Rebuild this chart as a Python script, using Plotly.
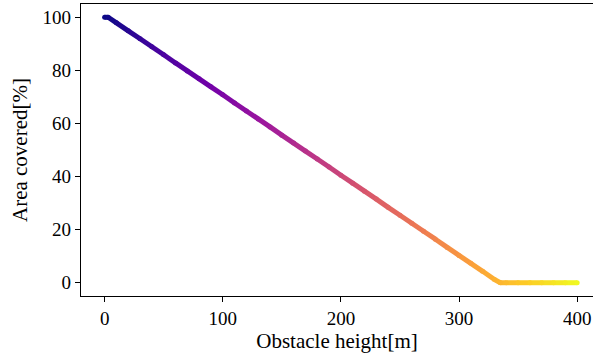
import plotly.graph_objects as go
from plotly.colors import sample_colorscale

# Data
heights = [0, 3, 10, 20, 30, 40, 50, 60, 70, 80, 90, 100, 110, 120, 130, 140, 150,
           160, 170, 180, 190, 200, 210, 220, 230, 240, 250, 260, 270, 280, 290,
           300, 310, 320, 330, 335, 340, 350, 360, 370, 380, 390, 400]
coverage = [100, 100, 97.9, 94.9, 91.9, 88.9, 85.9, 82.8, 79.8, 76.8, 73.8, 70.8,
            67.7, 64.7, 61.7, 58.7, 55.6, 52.6, 49.6, 46.6, 43.6, 40.5, 37.5, 34.5,
            31.5, 28.4, 25.4, 22.4, 19.4, 16.4, 13.3, 10.3, 7.3, 4.3, 1.2, 0,
            0, 0, 0, 0, 0, 0, 0]
x_ticks = [0, 100, 200, 300, 400]
y_ticks = [0, 20, 40, 60, 80, 100]

FONT = "Liberation Serif"
fig = go.Figure()

hmin, hmax = min(heights), max(heights)
for i in range(len(heights) - 1):
    mid = (heights[i] + heights[i + 1]) / 2
    c = sample_colorscale("Plasma", [(mid - hmin) / (hmax - hmin)])[0]
    fig.add_trace(go.Scatter(
        x=heights[i:i + 2], y=coverage[i:i + 2], mode="lines",
        line=dict(color=c, width=5), showlegend=False, hoverinfo="skip"))

pt_colors = sample_colorscale("Plasma", [(h - hmin) / (hmax - hmin) for h in heights])
fig.add_trace(go.Scatter(
    x=heights, y=coverage, mode="markers",
    marker=dict(color=pt_colors, size=5, line=dict(width=0)),
    showlegend=False))

fig.update_layout(
    width=593, height=356,
    margin=dict(l=80.5, r=0, t=4, b=59.5),
    paper_bgcolor="white", plot_bgcolor="white",
    font=dict(family=FONT, size=19, color="black"),
)
fig.update_xaxes(
    range=[-20, 413.4], tickvals=x_ticks, ticks="outside", ticklen=5, tickwidth=1.2,
    tickcolor="black", showline=True, linecolor="black", linewidth=1.3, mirror=True,
    showgrid=False, zeroline=False,
    title=dict(text="Obstacle height[m]", standoff=3, font=dict(family=FONT, size=21)),
)
fig.update_yaxes(
    range=[-5, 105], tickvals=y_ticks, ticks="outside", ticklen=5, tickwidth=1.2,
    tickcolor="black", showline=True, linecolor="black", linewidth=1.3,
    showgrid=False, zeroline=False,
    title=dict(text="Area covered[%]", standoff=9, font=dict(family=FONT, size=21)),
)

fig.write_html(
    "out.html",
    config={"displayModeBar": False},
    post_script="document.body.style.margin='0';document.body.style.padding='0';"
                "document.body.style.overflow='hidden';",
)
